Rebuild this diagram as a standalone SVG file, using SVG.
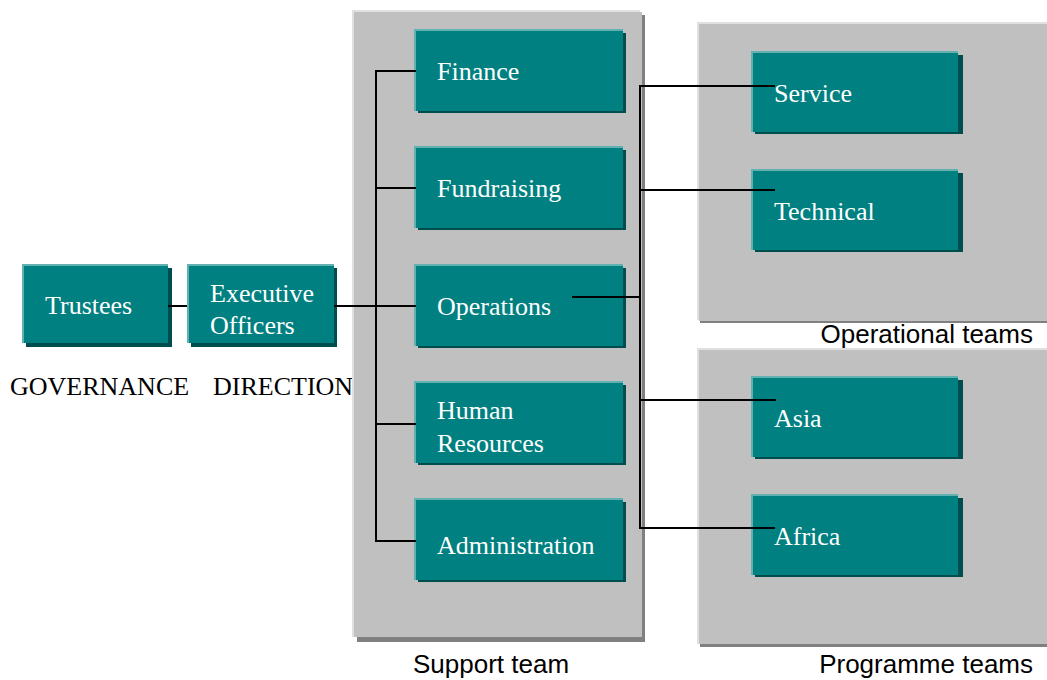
<svg xmlns="http://www.w3.org/2000/svg" width="1047" height="680" viewBox="0 0 1047 680">
<style>
.hl{fill:#62b1b1}.sh{fill:#004d4d}.bx{fill:#008080}
.phl{fill:#e0e0e0}.psh{fill:#808080}.pbx{fill:#c0c0c0}
.nt{font-family:"Liberation Serif","Times New Roman",serif;font-size:26px;fill:#ffffff}
.lt{font-family:"Liberation Serif","Times New Roman",serif;font-size:26px;fill:#000000}
.st{font-family:"Liberation Sans",Arial,sans-serif;font-size:26px;fill:#000000}
.cn{stroke:#000;stroke-width:2;fill:none}
</style>
<rect width="1047" height="680" fill="#ffffff"/>
<text class="lt" x="10" y="395">GOVERNANCE</text>
<text class="lt" x="213" y="395">DIRECTION</text>
<g id="support-panel">
<rect class="psh" x="357" y="15" width="288" height="627"/>
<rect class="phl" x="352" y="10" width="288" height="627"/>
<rect class="pbx" x="354" y="12" width="288" height="625"/>
</g>
<g id="operational-panel">
<rect class="psh" x="700" y="25" width="360" height="298"/>
<rect class="phl" x="697" y="22" width="360" height="298"/>
<rect class="pbx" x="699" y="24" width="360" height="297"/>
</g>
<g id="programme-panel">
<rect class="psh" x="700" y="351" width="360" height="296"/>
<rect class="phl" x="697" y="348" width="360" height="296"/>
<rect class="pbx" x="699" y="350" width="360" height="294"/>
</g>
<g id="trustees">
<rect class="sh" x="26" y="268" width="146" height="79"/>
<rect class="hl" x="22" y="264" width="146" height="79"/>
<rect class="bx" x="24" y="266" width="144" height="77"/>
<text class="nt" x="45" y="314">Trustees</text>
</g>
<g id="executive-officers">
<rect class="sh" x="191" y="268" width="146" height="79"/>
<rect class="hl" x="187" y="264" width="147" height="79"/>
<rect class="bx" x="189" y="266" width="145" height="77"/>
<text class="nt" x="210" y="302">Executive</text>
<text class="nt" x="210" y="334">Officers</text>
</g>
<g id="finance">
<rect class="sh" x="418" y="33" width="208" height="80"/>
<rect class="hl" x="414" y="29" width="209" height="82"/>
<rect class="bx" x="416" y="31" width="207" height="80"/>
<text class="nt" x="437" y="80">Finance</text>
</g>
<g id="fundraising">
<rect class="sh" x="418" y="150" width="208" height="80"/>
<rect class="hl" x="414" y="146" width="209" height="82"/>
<rect class="bx" x="416" y="148" width="207" height="80"/>
<text class="nt" x="437" y="197">Fundraising</text>
</g>
<g id="operations">
<rect class="sh" x="418" y="268" width="208" height="80"/>
<rect class="hl" x="414" y="264" width="209" height="82"/>
<rect class="bx" x="416" y="266" width="207" height="80"/>
<text class="nt" x="437" y="315">Operations</text>
</g>
<g id="human-resources">
<rect class="sh" x="418" y="385" width="208" height="80"/>
<rect class="hl" x="414" y="381" width="209" height="82"/>
<rect class="bx" x="416" y="383" width="207" height="80"/>
<text class="nt" x="437" y="419">Human</text>
<text class="nt" x="437" y="452">Resources</text>
</g>
<g id="administration">
<rect class="sh" x="418" y="502" width="208" height="80"/>
<rect class="hl" x="414" y="498" width="209" height="82"/>
<rect class="bx" x="416" y="500" width="207" height="80"/>
<text class="nt" x="437" y="554">Administration</text>
</g>
<g id="service">
<rect class="sh" x="755" y="55" width="208" height="79"/>
<rect class="hl" x="751" y="51" width="207" height="81"/>
<rect class="bx" x="753" y="53" width="205" height="79"/>
<text class="nt" x="774" y="102">Service</text>
</g>
<g id="technical">
<rect class="sh" x="755" y="173" width="208" height="79"/>
<rect class="hl" x="751" y="169" width="207" height="81"/>
<rect class="bx" x="753" y="171" width="205" height="79"/>
<text class="nt" x="774" y="220">Technical</text>
</g>
<g id="asia">
<rect class="sh" x="755" y="380" width="208" height="79"/>
<rect class="hl" x="751" y="376" width="207" height="81"/>
<rect class="bx" x="753" y="378" width="205" height="79"/>
<text class="nt" x="774" y="427">Asia</text>
</g>
<g id="africa">
<rect class="sh" x="755" y="498" width="208" height="79"/>
<rect class="hl" x="751" y="494" width="207" height="81"/>
<rect class="bx" x="753" y="496" width="205" height="79"/>
<text class="nt" x="774" y="545">Africa</text>
</g>
<g id="connectors">
<line class="cn" x1="168" y1="306" x2="187" y2="306"/>
<line class="cn" x1="334" y1="306" x2="416" y2="306"/>
<polyline class="cn" points="416,71 376,71 376,541 416,541"/>
<line class="cn" x1="376" y1="188" x2="416" y2="188"/>
<line class="cn" x1="376" y1="424" x2="416" y2="424"/>
<polyline class="cn" points="775,86 640,86 640,528 775,528"/>
<line class="cn" x1="640" y1="190" x2="775" y2="190"/>
<line class="cn" x1="572" y1="297" x2="640" y2="297"/>
<line class="cn" x1="640" y1="400" x2="776" y2="400"/>
</g>
<g id="labels">
<text class="st" x="491" y="673" text-anchor="middle">Support team</text>
<text class="st" x="1033" y="343" text-anchor="end">Operational teams</text>
<text class="st" x="1033" y="673" text-anchor="end">Programme teams</text>
</g>
</svg>
